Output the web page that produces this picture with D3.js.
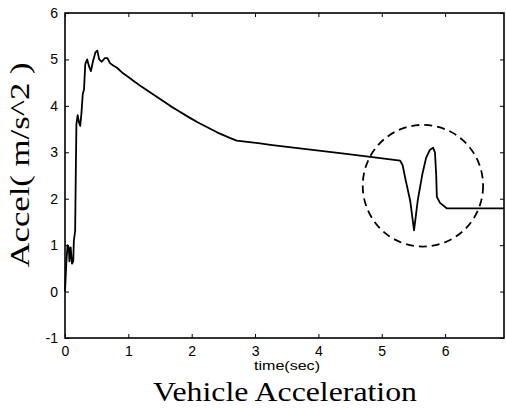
<!DOCTYPE html>
<html><head><meta charset="utf-8">
<script src="https://cdn.jsdelivr.net/npm/d3@7"></script>
<style>body{margin:0;background:#fff}</style>
</head><body>
<svg id="c" width="506" height="410"></svg>
<script>
const timeSec = [0,0.01,0.02,0.04,0.06,0.07,0.09,0.11,0.13,0.14,0.16,0.17,0.18,0.20,0.22,0.24,0.26,0.28,0.30,0.32,0.35,0.38,0.41,0.44,0.48,0.51,0.54,0.58,0.63,0.67,0.71,0.76,0.82,0.9,1.0,1.1,1.2,1.3,1.4,1.53,1.66,1.78,1.9,2.0,2.1,2.2,2.3,2.4,2.5,2.6,2.71,3.08,3.24,4.34,4.82,5.29,5.33,5.37,5.45,5.51,5.57,5.64,5.70,5.76,5.81,5.84,5.86,5.87,5.92,6.03,6.93];
const accel   = [0,0.3,0.6,1.0,0.95,0.65,0.95,0.6,0.65,1.1,1.3,2.5,3.6,3.8,3.65,3.57,3.85,4.25,4.35,4.9,5.0,4.85,4.75,4.95,5.15,5.19,5.0,4.95,5.03,5.03,4.92,4.87,4.82,4.72,4.62,4.52,4.42,4.33,4.24,4.12,4.0,3.9,3.8,3.72,3.64,3.57,3.5,3.43,3.37,3.31,3.25,3.19,3.16,2.98,2.9,2.82,2.72,2.45,1.95,1.32,1.98,2.52,2.88,3.05,3.1,3.0,2.5,2.04,1.91,1.79,1.79];
const xTicks = [0,1,2,3,4,5,6];
const yTicks = [-1,0,1,2,3,4,5,6];
const highlight = [{t:5.65, a:2.28, rt:0.95, ra:1.31}];
const xLabel = "time(sec)";
const yLabel = "Accel( m/s^2 )";
const title = "Vehicle Acceleration";

const svg = d3.select("#c");
const L=65, R=504, T=13, B=338;
const x = d3.scaleLinear().domain([0,6.93]).range([L,R]);
const y = d3.scaleLinear().domain([-1,6]).range([B,T]);
const tickFont = "'Liberation Sans', Arial, sans-serif";
const serif = "'Liberation Serif', 'Times New Roman', serif";
const fmt = d => String(d);

const gb = svg.append("g").attr("transform",`translate(0,${B})`).call(d3.axisBottom(x).tickValues(xTicks).tickSize(-4).tickPadding(8).tickFormat(fmt));
const gt = svg.append("g").attr("transform",`translate(0,${T})`).call(d3.axisTop(x).tickValues(xTicks).tickSize(-4).tickFormat(""));
const gl = svg.append("g").attr("transform",`translate(${L},0)`).call(d3.axisLeft(y).tickValues(yTicks).tickSize(-4).tickPadding(7).tickFormat(fmt));
const gr = svg.append("g").attr("transform",`translate(${R},0)`).call(d3.axisRight(y).tickValues(yTicks).tickSize(-4).tickFormat(""));
[gb,gt,gl,gr].forEach(g=>{
  g.select(".domain").remove();
  g.selectAll(".tick line").attr("stroke","#000").attr("stroke-width",1);
  g.selectAll("text").attr("font-family",tickFont).attr("font-size",14).attr("fill","#000");
});
gb.selectAll("text").attr("dy","0.7em");

svg.append("rect").attr("x",L).attr("y",T).attr("width",R-L).attr("height",B-T)
  .attr("fill","none").attr("stroke","#000").attr("stroke-width",1.6);

const pts = timeSec.map((t,i)=>[t,accel[i]]);
svg.append("path").datum(pts)
  .attr("d", d3.line().x(d=>x(d[0])).y(d=>y(d[1])))
  .attr("fill","none").attr("stroke","#000").attr("stroke-width",1.8).attr("stroke-linejoin","round");

svg.selectAll("ellipse.hl").data(highlight).join("ellipse").attr("class","hl")
  .attr("cx",d=>x(d.t)).attr("cy",d=>y(d.a))
  .attr("rx",d=>x(d.t+d.rt)-x(d.t)).attr("ry",d=>y(d.a-d.ra)-y(d.a))
  .attr("fill","none").attr("stroke","#000").attr("stroke-width",1.8).attr("stroke-dasharray","8,5");

svg.append("text").attr("x",287).attr("y",370).attr("text-anchor","middle")
  .attr("font-family",tickFont).attr("font-size",13).attr("textLength",66).attr("lengthAdjust","spacingAndGlyphs").text(xLabel);

svg.append("text").attr("x",285).attr("y",401).attr("text-anchor","middle")
  .attr("font-family",serif).attr("font-size",28).attr("textLength",264).attr("lengthAdjust","spacingAndGlyphs").text(title);

svg.append("text").attr("transform","translate(29,165) rotate(-90)").attr("text-anchor","middle")
  .attr("font-family",serif).attr("font-size",27).attr("textLength",205).attr("lengthAdjust","spacingAndGlyphs").text(yLabel);
</script>
</body></html>
